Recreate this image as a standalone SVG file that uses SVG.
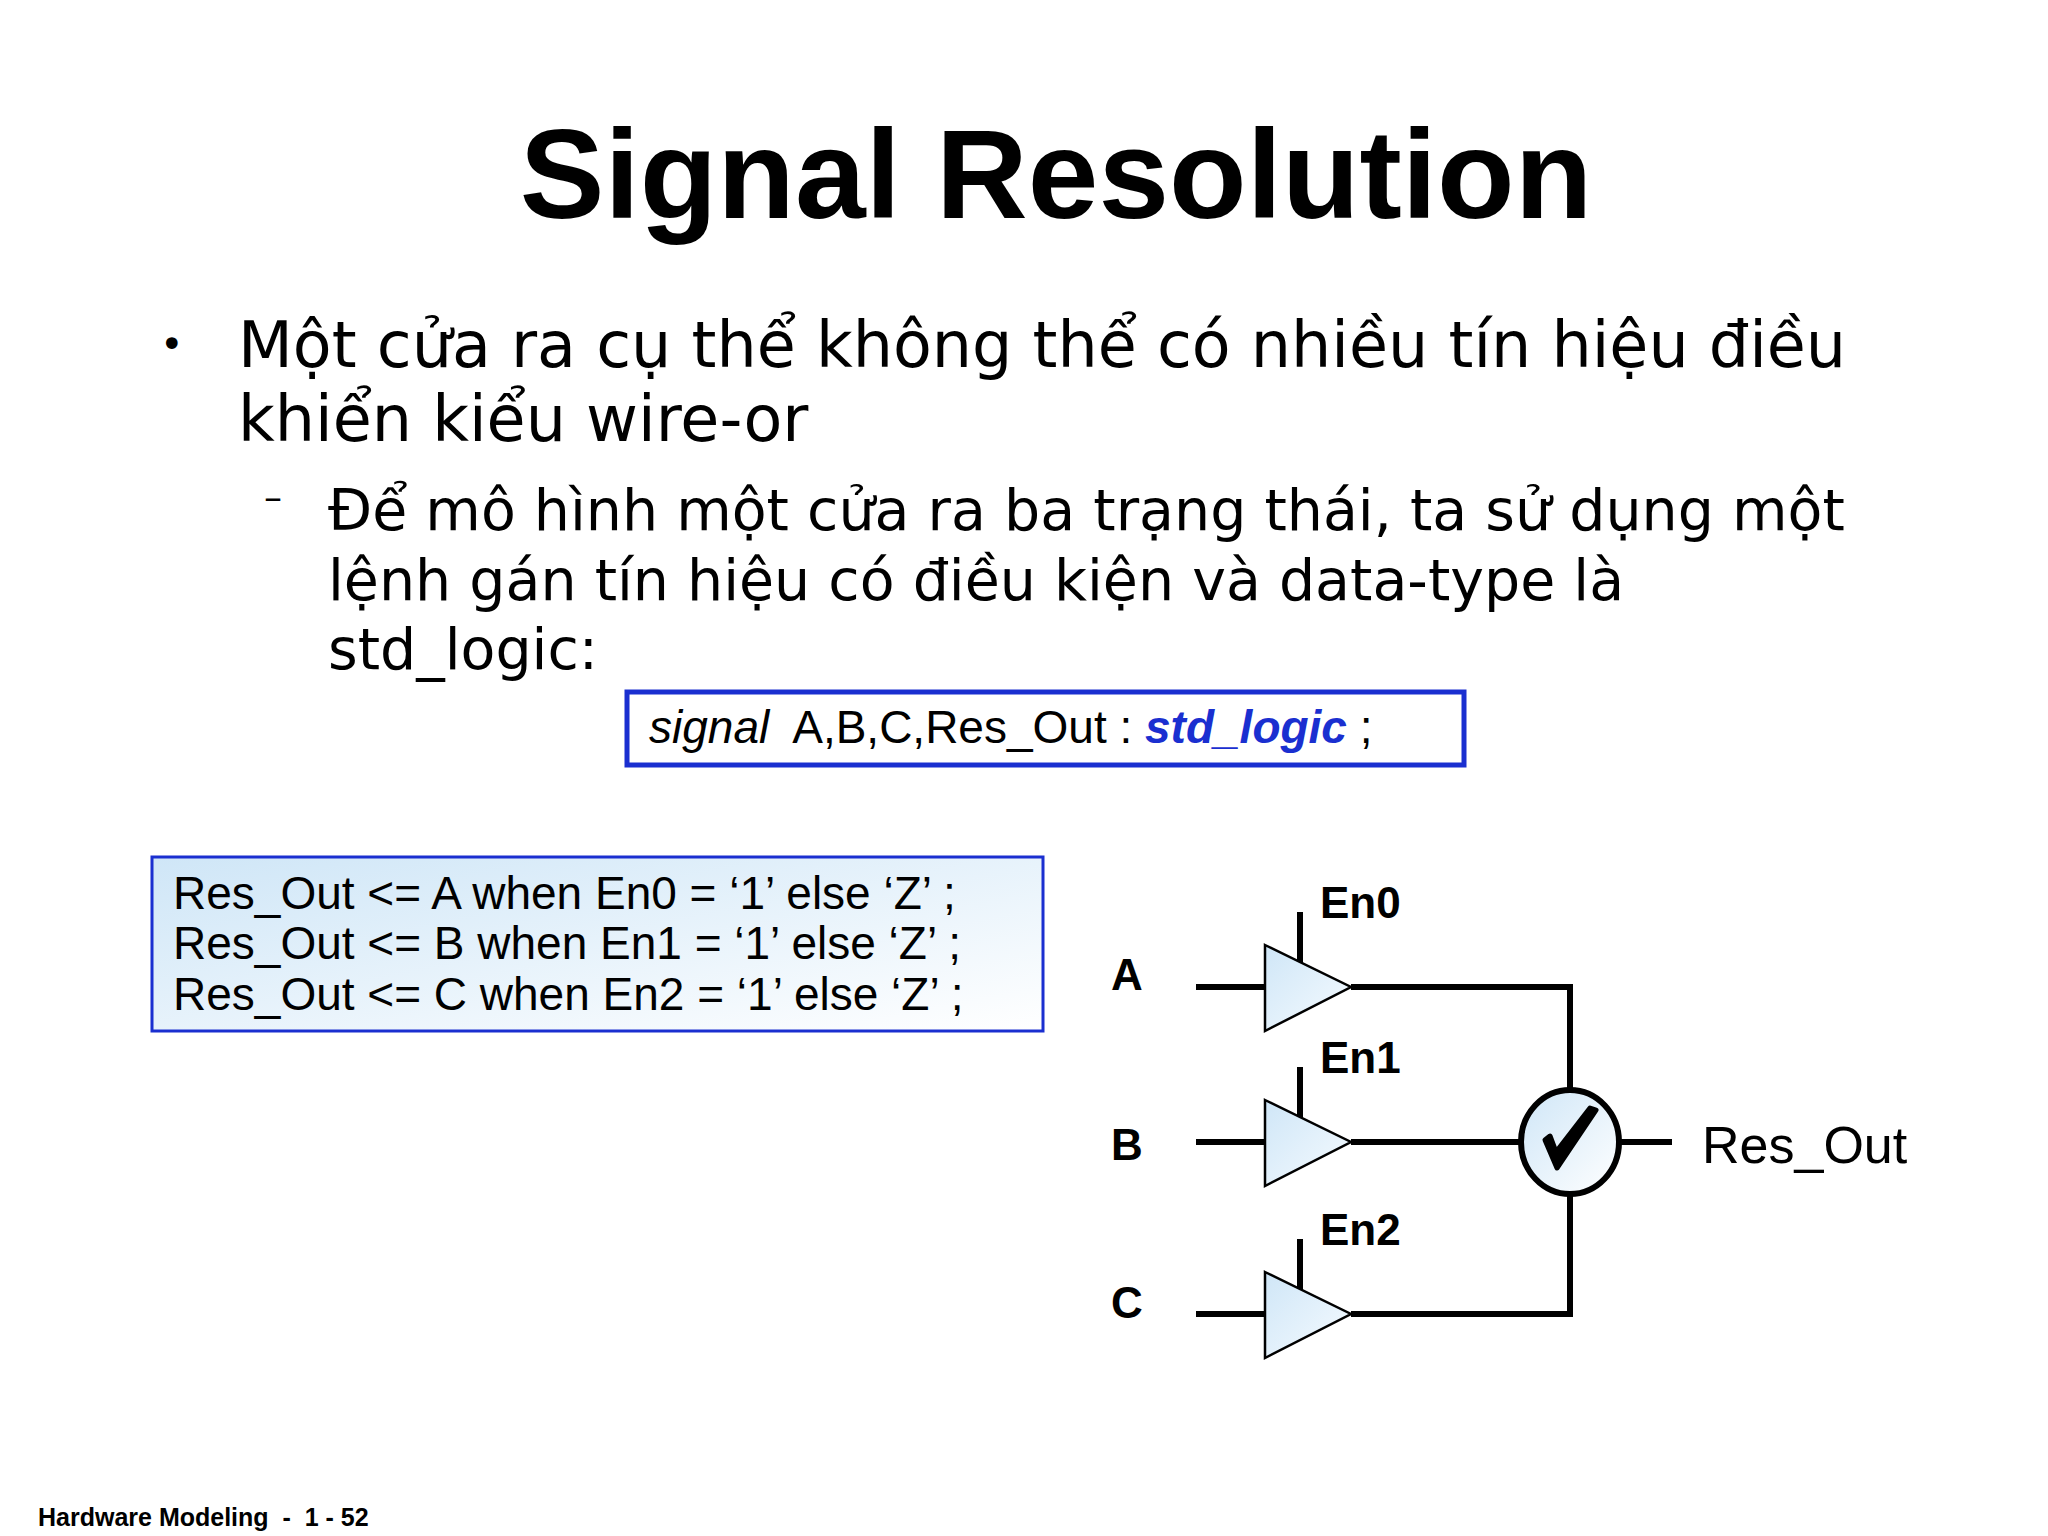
<svg xmlns="http://www.w3.org/2000/svg" width="2048" height="1536" viewBox="0 0 2048 1536">
<style>
.v{font-family:"DejaVu Sans",Verdana,sans-serif;fill:#000}
.a{font-family:"Liberation Sans",Arial,sans-serif;fill:#000}
.b{font-weight:bold}
.w{stroke:#000;stroke-width:6;fill:none}
.buf{fill:url(#g);stroke:#000;stroke-width:2.5}
</style>
<defs>
<linearGradient id="g" x1="0" y1="0" x2="1" y2="1"><stop offset="0" stop-color="#cfe6f7"/><stop offset="1" stop-color="#f6fbff"/></linearGradient>
<linearGradient id="g2" x1="0" y1="0" x2="1" y2="1"><stop offset="0" stop-color="#cfe6f7"/><stop offset="1" stop-color="#ffffff"/></linearGradient>
</defs>
<rect width="2048" height="1536" fill="#fff"/>
<text class="a b" x="1056" y="218" font-size="127" text-anchor="middle">Signal Resolution</text>
<g id="bullets">
<text class="v" x="160" y="358" font-size="40">•</text>
<text class="v" x="238" y="367" font-size="63.5">Một cửa ra cụ thể không thể có nhiều tín hiệu điều</text>
<text class="v" x="238" y="441" font-size="63.5">khiển kiểu wire-or</text>
<text class="v" x="264" y="510" font-size="36">–</text>
<text class="v" x="328" y="530" font-size="57">Để mô hình một cửa ra ba trạng thái, ta sử dụng một</text>
<text class="v" x="328" y="600" font-size="57">lệnh gán tín hiệu có điều kiện và data-type là</text>
<text class="v" x="328" y="669" font-size="57">std_logic:</text>
</g>
<g id="signalbox">
<rect x="627" y="692" width="837" height="73" fill="#fff" stroke="#1a2fd0" stroke-width="5"/>
<text class="a" x="649" y="743" font-size="46" xml:space="preserve"><tspan font-style="italic">signal</tspan>  A,B,C,Res_Out : <tspan fill="#1a2fd0" font-weight="bold" font-style="italic">std_logic</tspan> ;</text>
</g>
<g id="codebox">
<rect x="152" y="857" width="891" height="174" fill="url(#g2)" stroke="#1a2fd0" stroke-width="3"/>
<text class="a" x="173" y="909" font-size="46">Res_Out &lt;= A when En0 = ‘1’ else ‘Z’ ;</text>
<text class="a" x="173" y="959" font-size="46">Res_Out &lt;= B when En1 = ‘1’ else ‘Z’ ;</text>
<text class="a" x="173" y="1010" font-size="46">Res_Out &lt;= C when En2 = ‘1’ else ‘Z’ ;</text>
</g>
<g id="connectors">
<path class="w" d="M1196 987H1265M1351 987H1570V1089"/>
<path class="w" d="M1196 1142H1265M1351 1142H1521"/>
<path class="w" d="M1196 1314H1265M1351 1314H1570V1195"/>
<path class="w" d="M1620 1142H1672"/>
<path class="w" d="M1300 912V966M1300 1067V1121M1300 1239V1293"/>
</g>
<g id="bufA"><polygon class="buf" points="1265,945 1351,987 1265,1031"/><text class="a b" x="1111" y="990" font-size="44">A</text><text class="a b" x="1320" y="918" font-size="44">En0</text></g>
<g id="bufB"><polygon class="buf" points="1265,1100 1351,1142 1265,1186"/><text class="a b" x="1111" y="1160" font-size="44">B</text><text class="a b" x="1320" y="1073" font-size="44">En1</text></g>
<g id="bufC"><polygon class="buf" points="1265,1272 1351,1314 1265,1358"/><text class="a b" x="1111" y="1318" font-size="44">C</text><text class="a b" x="1320" y="1245" font-size="44">En2</text></g>
<g id="resolver">
<ellipse cx="1570" cy="1142" rx="49" ry="52" fill="url(#g2)" stroke="#000" stroke-width="6"/>
<path d="M1545 1140 L1557 1168 L1596 1110 L1590 1108 L1556 1152 L1550 1136 Z" fill="#000" stroke="#000" stroke-width="5" stroke-linejoin="round"/>
</g>
<text class="a" x="1702" y="1163" font-size="52">Res_Out</text>
<text class="a b" x="38" y="1526" font-size="25" xml:space="preserve">Hardware Modeling  -  1 - 52</text>
</svg>
